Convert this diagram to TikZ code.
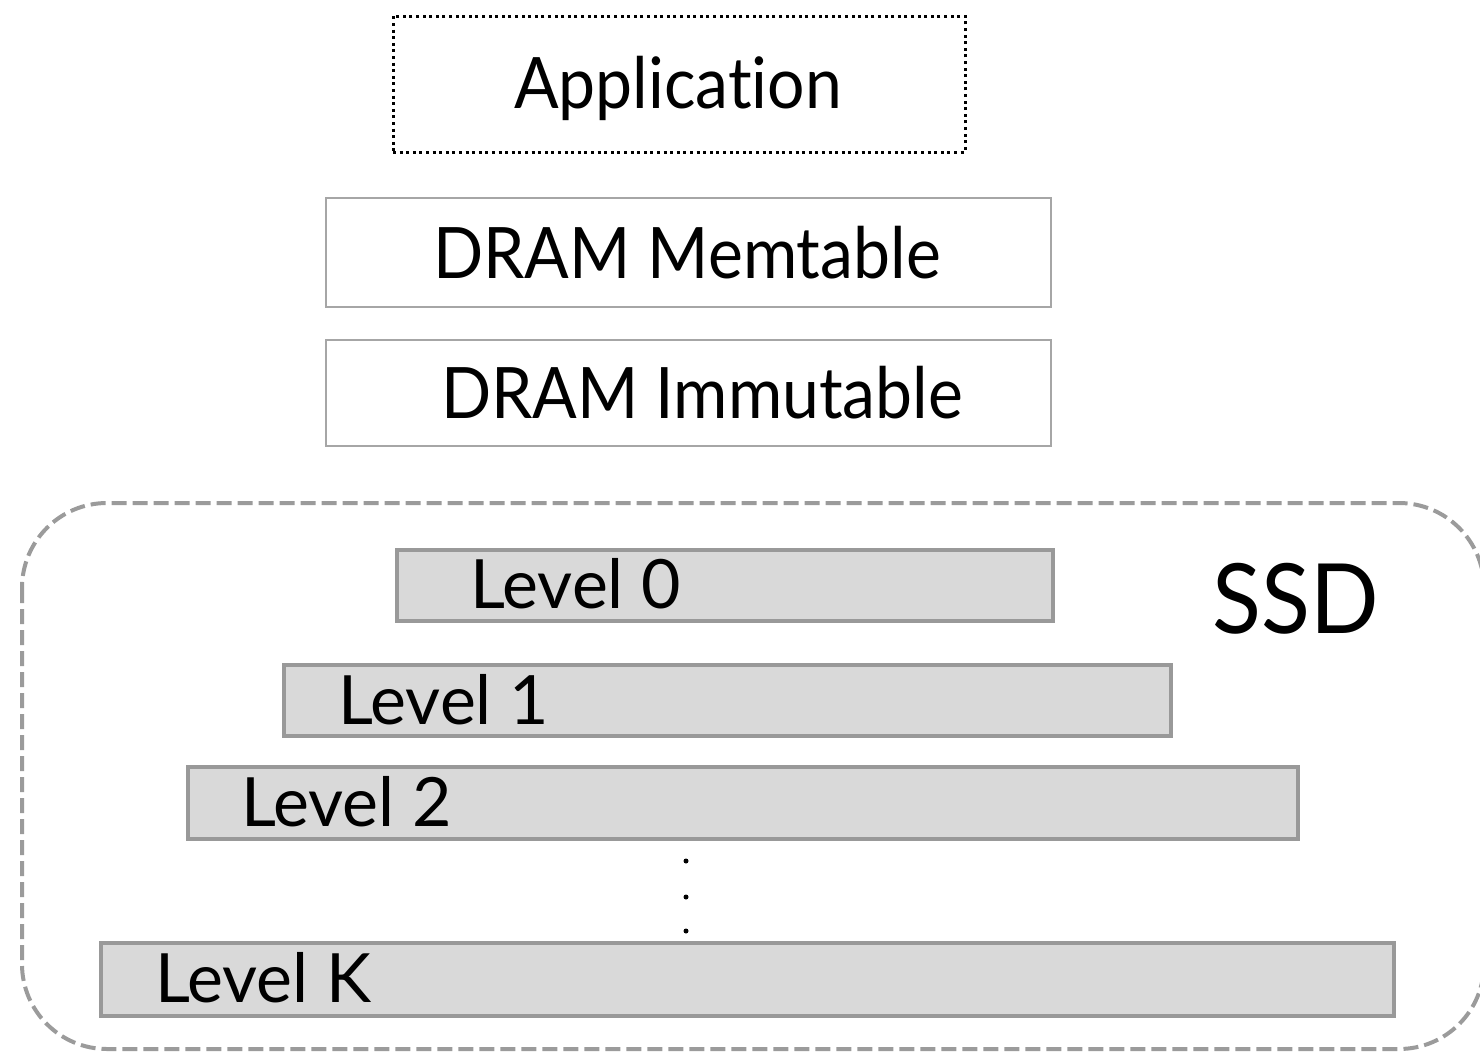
\documentclass[tikz,border=0pt]{standalone}
\usepackage{fontspec}
\setmainfont{Lato}[Ligatures={NoCommon,NoRare}]
\newfontfamily\narrowlato{Lato}[FakeStretch=0.93,Ligatures={NoCommon,NoRare}]
\begin{document}
\begin{tikzpicture}[x=1pt,y=-1pt,
  appbox/.style={draw=black,line width=3pt,dash pattern=on 3pt off 3.6pt,inner sep=0pt},
  drambox/.style={draw=framegray,line width=1.4pt,inner sep=0pt},
  levelbox/.style={draw=levelborder,fill=levelfill,line width=4pt,inner sep=0pt},
  lbl/.style={inner sep=0pt,anchor=base,font=\narrowlato\fontsize{71}{80}\selectfont},
  levellbl/.style={inner sep=0pt,anchor=base west,font=\fontsize{68}{76}\selectfont},
  dotmark/.style={circle,fill=black,inner sep=0pt,minimum size=5pt}]
\definecolor{framegray}{HTML}{A6A6A6}
\definecolor{levelborder}{HTML}{999999}
\definecolor{levelfill}{HTML}{D9D9D9}
\definecolor{ssdgray}{HTML}{9B9B9B}
\useasboundingbox (0,0) rectangle (1480,1052);
\clip (0,0) rectangle (1480,1052);

% SSD enclosure
\draw[ssdgray,line width=4pt,dash pattern=on 15pt off 6pt,rounded corners=85pt]
  (22,503) rectangle (1484,1049);
\node[anchor=base,inner sep=0pt,font=\narrowlato\fontsize{97}{110}\selectfont] (ssd) at (1296,633) {SSD};

% Application (dotted frame)
\node[appbox,minimum width=572pt,minimum height=136pt] (app) at (679,84) {};
\node[lbl] (applbl) at (678,108) {Application};

% DRAM buffers
\node[drambox,minimum width=725pt,minimum height=109pt] (mem) at (688.5,252.5) {};
\node[lbl] (memlbl) at (687,278) {DRAM Memtable};
\node[drambox,minimum width=725pt,minimum height=106pt] (imm) at (688.5,393) {};
\node[lbl] (immlbl) at (702,418) {DRAM Immutable};

% Levels on the SSD
\node[levelbox,minimum width=656pt,minimum height=71pt] (l0) at (725,585.5) {};
\node[levellbl] (l0lbl) at (470,608) {Level 0};
\node[levelbox,minimum width=887pt,minimum height=71pt] (l1) at (727.5,700.5) {};
\node[levellbl] (l1lbl) at (338,724) {Level 1};
\node[levelbox,minimum width=1110pt,minimum height=72pt] (l2) at (743,803) {};
\node[levellbl] (l2lbl) at (241,826) {Level 2};
\node[levelbox,minimum width=1293pt,minimum height=73pt] (lk) at (747.5,979.5) {};
\node[levellbl] (lklbl) at (155,1002) {Level K};

% vertical ellipsis between Level 2 and Level K
\node[dotmark] (d1) at (686,861) {};
\node[dotmark] (d2) at (686,897) {};
\node[dotmark] (d3) at (686,931) {};
\end{tikzpicture}
\end{document}
